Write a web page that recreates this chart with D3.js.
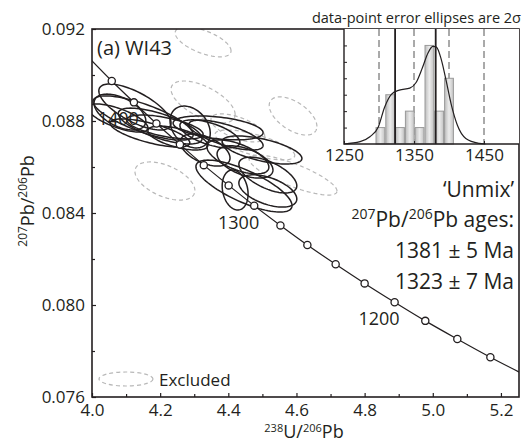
<!DOCTYPE html>
<html>
<head>
<meta charset="utf-8">
<script src="https://cdn.jsdelivr.net/npm/d3@7"></script>
<style>
  html, body { margin: 0; padding: 0; background: #fff; }
  svg { display: block; font-family: "Open Sans", sans-serif; }
</style>
</head>
<body>
<div id="chart"></div>
<script>
// concordia (Tera-Wasserburg), points every 20 Ma
const concAges = [1440, 1420, 1400, 1380, 1360, 1340, 1320, 1300, 1280, 1260, 1240, 1220, 1200, 1180, 1160, 1140, 1120];
const concX = [3.995, 4.058, 4.123, 4.189, 4.258, 4.328, 4.401, 4.476, 4.553, 4.632, 4.715, 4.800, 4.888, 4.978, 5.072, 5.169, 5.270];
const concY = [0.09069, 0.08974, 0.08881, 0.08789, 0.08698, 0.08608, 0.08520, 0.08432, 0.08346, 0.08261, 0.08177, 0.08094, 0.08012, 0.07931, 0.07852, 0.07773, 0.07696];
const concLabels = [1400, 1300, 1200];

// included analyses: centre, 2 sigma half-widths, error correlation
const incX = [4.126, 4.150, 4.200, 4.214, 4.082, 4.288, 4.370, 4.346, 4.428, 4.516, 4.446, 4.516, 4.420, 4.393, 4.449, 4.170, 4.332, 4.076, 4.252, 4.499];
const incY = [0.08861, 0.08813, 0.08778, 0.08774, 0.08839, 0.08774, 0.08770, 0.08744, 0.08644, 0.08565, 0.08517, 0.08496, 0.08500, 0.08739, 0.08622, 0.08748, 0.08674, 0.08813, 0.08726, 0.08674];
const incSx = [0.106, 0.147, 0.123, 0.112, 0.076, 0.059, 0.132, 0.088, 0.091, 0.085, 0.141, 0.085, 0.038, 0.109, 0.082, 0.117, 0.073, 0.088, 0.088, 0.117];
const incSy = [0.00100, 0.00096, 0.00078, 0.00052, 0.00078, 0.00091, 0.00052, 0.00061, 0.00074, 0.00078, 0.00113, 0.00070, 0.00087, 0.00065, 0.00070, 0.00061, 0.00070, 0.00061, 0.00052, 0.00061];
const incRho = [-0.70, -0.75, -0.70, -0.60, -0.50, -0.30, -0.40, -0.60, -0.60, -0.60, -0.75, -0.50, -0.20, -0.70, -0.50, -0.70, -0.50, -0.70, -0.60, -0.60];

// excluded analyses
const excX = [4.326, 4.326, 4.590, 4.214, 4.428, 4.590, 4.478];
const excY = [0.09144, 0.08883, 0.08822, 0.08539, 0.08770, 0.08565, 0.08696];
const excSx = [0.082, 0.094, 0.070, 0.088, 0.079, 0.129, 0.117];
const excSy = [0.00065, 0.00091, 0.00083, 0.00083, 0.00061, 0.00087, 0.00065];
const excRho = [-0.60, -0.60, -0.55, -0.50, -0.60, -0.80, -0.70];

const xTicks = [4.0, 4.2, 4.4, 4.6, 4.8, 5.0, 5.2];
const xMinor = [4.1, 4.3, 4.5, 4.7, 4.9, 5.1];
const yTicks = [0.076, 0.080, 0.084, 0.088, 0.092];
const yMinor = [0.078, 0.082, 0.086, 0.090];

// inset: 207Pb/206Pb age histogram + density
const binEdges = [1295, 1309, 1323, 1337, 1351, 1365, 1379, 1393, 1407];
const binCounts = [1, 3, 1, 2, 1, 6, 2, 4];
const kdeAge = [1250, 1273, 1287, 1299, 1308, 1318, 1329, 1344, 1353, 1362, 1370, 1377, 1382, 1389, 1396, 1403, 1412, 1424, 1443, 1452];
const kdeVal = [0, 0.14, 0.44, 1.04, 2.24, 3.04, 3.28, 3.40, 3.74, 4.64, 5.54, 5.94, 5.90, 5.14, 3.84, 2.44, 1.14, 0.34, 0.04, 0];
const unmixAges = [1381, 1323];
const insetGrid = [1300, 1350, 1400, 1450];
const insetXLabels = [1250, 1350, 1450];
const insetYTicks = [1, 2, 3, 4, 5, 6];

const W = 524, H = 442;
const plot = { left: 92, right: 519, top: 29, bottom: 397 };
const ink = "#231f20";

const svg = d3.select("#chart").append("svg")
  .attr("width", W)
  .attr("height", H);

const x = d3.scaleLinear().domain([4.0, 5.253]).range([plot.left, plot.right]);
const y = d3.scaleLinear().domain([0.076, 0.092]).range([plot.bottom, plot.top]);

svg.append("clipPath").attr("id", "plot-clip")
  .append("rect")
  .attr("x", plot.left).attr("y", plot.top)
  .attr("width", plot.right - plot.left).attr("height", plot.bottom - plot.top);

const clipped = svg.append("g").attr("clip-path", "url(#plot-clip)");

// ellipse outline from centre, half-widths and correlation
const thetas = d3.range(0, 2 * Math.PI + 0.001, Math.PI / 48);
function ellipsePath(cx, cy, sx, sy, rho) {
  const pts = thetas.map(t => [
    x(cx + sx * Math.cos(t)),
    y(cy + sy * (rho * Math.cos(t) + Math.sqrt(1 - rho * rho) * Math.sin(t)))
  ]);
  return d3.line()(pts) + "Z";
}

clipped.selectAll(".excluded")
  .data(d3.range(excX.length))
  .enter()
  .append("path")
  .attr("class", "excluded")
  .attr("d", i => ellipsePath(excX[i], excY[i], excSx[i], excSy[i], excRho[i]))
  .attr("fill", "none")
  .attr("stroke", "#b8b8b8")
  .attr("stroke-width", 1.2)
  .attr("stroke-dasharray", "4,3");

clipped.selectAll(".included")
  .data(d3.range(incX.length))
  .enter()
  .append("path")
  .attr("class", "included")
  .attr("d", i => ellipsePath(incX[i], incY[i], incSx[i], incSy[i], incRho[i]))
  .attr("fill", "none")
  .attr("stroke", ink)
  .attr("stroke-width", 1.5);

// concordia
const conc = concAges.map((a, i) => ({ age: a, x: concX[i], y: concY[i] }));

clipped.append("path")
  .datum(conc)
  .attr("fill", "none")
  .attr("stroke", ink)
  .attr("stroke-width", 1.2)
  .attr("d", d3.line().x(d => x(d.x)).y(d => y(d.y)).curve(d3.curveCatmullRom));

clipped.selectAll(".age-mark")
  .data(conc.slice(1, -1))
  .enter()
  .append("circle")
  .attr("class", "age-mark")
  .attr("cx", d => x(d.x))
  .attr("cy", d => y(d.y))
  .attr("r", 3.6)
  .attr("fill", "#fff")
  .attr("stroke", ink)
  .attr("stroke-width", 1.3);

svg.selectAll(".age-label")
  .data(conc.filter(d => concLabels.includes(d.age)))
  .enter()
  .append("text")
  .attr("class", "age-label")
  .attr("x", d => x(d.x) + 5)
  .attr("y", d => y(d.y) + 23)
  .attr("text-anchor", "end")
  .style("font-size", "18px")
  .style("fill", ink)
  .text(d => d.age);

// axes, ticks pointing inwards
svg.append("g")
  .attr("transform", `translate(0,${plot.bottom})`)
  .call(d3.axisBottom(x).tickValues(xTicks).tickFormat(d3.format(".1f")).tickSizeInner(-4).tickSizeOuter(0).tickPadding(7))
  .call(g => g.select(".domain").remove())
  .call(g => g.selectAll("line").attr("stroke", ink).attr("stroke-width", 1.2))
  .call(g => g.selectAll("text").style("font-size", "17px").style("fill", ink).style("font-family", "'Open Sans', sans-serif"));

svg.append("g")
  .attr("transform", `translate(0,${plot.bottom})`)
  .call(d3.axisBottom(x).tickValues(xMinor).tickFormat("").tickSizeInner(-3).tickSizeOuter(0))
  .call(g => g.select(".domain").remove())
  .call(g => g.selectAll("line").attr("stroke", ink).attr("stroke-width", 1.2));

svg.append("g")
  .attr("transform", `translate(${plot.left},0)`)
  .call(d3.axisLeft(y).tickValues(yTicks).tickFormat(d3.format(".3f")).tickSizeInner(-4).tickSizeOuter(0).tickPadding(7))
  .call(g => g.select(".domain").remove())
  .call(g => g.selectAll("line").attr("stroke", ink).attr("stroke-width", 1.2))
  .call(g => g.selectAll("text").style("font-size", "17px").style("fill", ink).style("font-family", "'Open Sans', sans-serif"));

svg.append("g")
  .attr("transform", `translate(${plot.left},0)`)
  .call(d3.axisLeft(y).tickValues(yMinor).tickFormat("").tickSizeInner(-3).tickSizeOuter(0))
  .call(g => g.select(".domain").remove())
  .call(g => g.selectAll("line").attr("stroke", ink).attr("stroke-width", 1.2));

svg.append("rect")
  .attr("x", plot.left).attr("y", plot.top)
  .attr("width", plot.right - plot.left).attr("height", plot.bottom - plot.top)
  .attr("fill", "none")
  .attr("stroke", ink)
  .attr("stroke-width", 1.6);

// axis titles
const xTitle = svg.append("text")
  .attr("x", 304).attr("y", 438)
  .attr("text-anchor", "middle")
  .style("font-size", "18px")
  .style("fill", ink);
xTitle.append("tspan").attr("dy", "-6").style("font-size", "11px").text("238");
xTitle.append("tspan").attr("dy", "6").text("U/");
xTitle.append("tspan").attr("dy", "-6").style("font-size", "11px").text("206");
xTitle.append("tspan").attr("dy", "6").text("Pb");

const yTitle = svg.append("text")
  .attr("transform", "translate(34,201) rotate(-90)")
  .attr("text-anchor", "middle")
  .style("font-size", "18px")
  .style("fill", ink);
yTitle.append("tspan").attr("dy", "-7").style("font-size", "12px").text("207");
yTitle.append("tspan").attr("dy", "7").text("Pb/");
yTitle.append("tspan").attr("dy", "-7").style("font-size", "12px").text("206");
yTitle.append("tspan").attr("dy", "7").text("Pb");

svg.append("text")
  .attr("x", 97).attr("y", 55)
  .style("font-size", "20px")
  .style("fill", ink)
  .text("(a) WI43");

svg.append("text")
  .attr("x", 521).attr("y", 23)
  .attr("text-anchor", "end")
  .style("font-size", "14.5px")
  .style("fill", ink)
  .text("data-point error ellipses are 2σ");

// result text
const res = svg.append("g").style("font-size", "21px").style("fill", ink).attr("text-anchor", "end");
res.append("text").attr("x", 514).attr("y", 197).text("\u2018Unmix\u2019");
const ageHead = res.append("text").attr("x", 514).attr("y", 227);
ageHead.append("tspan").attr("dy", "-8").style("font-size", "14px").text("207");
ageHead.append("tspan").attr("dy", "8").text("Pb/");
ageHead.append("tspan").attr("dy", "-8").style("font-size", "14px").text("206");
ageHead.append("tspan").attr("dy", "8").text("Pb ages:");
res.append("text").attr("x", 514).attr("y", 258).text(`${unmixAges[0]} \u00b1 5 Ma`);
res.append("text").attr("x", 514).attr("y", 289).text(`${unmixAges[1]} \u00b1 7 Ma`);

// legend
svg.append("ellipse")
  .attr("cx", 126).attr("cy", 379)
  .attr("rx", 27).attr("ry", 7)
  .attr("fill", "none")
  .attr("stroke", "#b8b8b8")
  .attr("stroke-width", 1.2)
  .attr("stroke-dasharray", "4,3");

svg.append("text")
  .attr("x", 159).attr("y", 386)
  .style("font-size", "17px")
  .style("fill", ink)
  .text("Excluded");

// inset
const inset = { left: 344, right: 519, top: 29, bottom: 144 };
const ix = d3.scaleLinear().domain([1250, 1500]).range([inset.left, inset.right]);
const iy = d3.scaleLinear().domain([0, 7]).range([inset.bottom, inset.top]);

svg.append("rect")
  .attr("x", inset.left).attr("y", inset.top)
  .attr("width", inset.right - inset.left).attr("height", inset.bottom - inset.top)
  .attr("fill", "#fff");

const grad = svg.append("defs").append("linearGradient").attr("id", "bar-grad");
grad.append("stop").attr("offset", "0%").attr("stop-color", "#bdbdbd");
grad.append("stop").attr("offset", "50%").attr("stop-color", "#ececec");
grad.append("stop").attr("offset", "100%").attr("stop-color", "#c4c4c4");

svg.selectAll(".inset-grid")
  .data(insetGrid)
  .enter()
  .append("line")
  .attr("class", "inset-grid")
  .attr("x1", d => ix(d)).attr("x2", d => ix(d))
  .attr("y1", inset.top).attr("y2", inset.bottom)
  .attr("stroke", "#555")
  .attr("stroke-width", 1)
  .attr("stroke-dasharray", "7,4");

svg.selectAll(".bar")
  .data(binCounts)
  .enter()
  .append("rect")
  .attr("class", "bar")
  .attr("x", (d, i) => ix(binEdges[i]) + 0.5)
  .attr("y", d => iy(d))
  .attr("width", (d, i) => ix(binEdges[i + 1]) - ix(binEdges[i]) - 1)
  .attr("height", d => iy(0) - iy(d))
  .attr("fill", "url(#bar-grad)")
  .attr("stroke", "#9a9a9a")
  .attr("stroke-width", 1);

svg.append("path")
  .datum(kdeAge.map((a, i) => [a, kdeVal[i]]))
  .attr("fill", "none")
  .attr("stroke", ink)
  .attr("stroke-width", 1.2)
  .attr("d", d3.line().x(d => ix(d[0])).y(d => iy(d[1])).curve(d3.curveMonotoneX));

svg.selectAll(".unmix-line")
  .data(unmixAges)
  .enter()
  .append("line")
  .attr("class", "unmix-line")
  .attr("x1", d => ix(d)).attr("x2", d => ix(d))
  .attr("y1", inset.top).attr("y2", inset.bottom)
  .attr("stroke", ink)
  .attr("stroke-width", 1.8);

svg.append("g")
  .attr("transform", `translate(0,${inset.bottom})`)
  .call(d3.axisBottom(ix).tickValues(insetXLabels).tickFormat(d3.format("d")).tickSizeInner(-3).tickSizeOuter(0).tickPadding(5))
  .call(g => g.select(".domain").remove())
  .call(g => g.selectAll("line").attr("stroke", ink))
  .call(g => g.selectAll("text").style("font-size", "17px").style("fill", ink).style("font-family", "'Open Sans', sans-serif"));

svg.append("g")
  .attr("transform", `translate(${inset.left},0)`)
  .call(d3.axisLeft(iy).tickValues(insetYTicks).tickFormat("").tickSizeInner(-3).tickSizeOuter(0))
  .call(g => g.select(".domain").remove())
  .call(g => g.selectAll("line").attr("stroke", ink));

svg.append("path")
  .attr("d", `M${inset.left},${inset.top}V${inset.bottom}H${inset.right}`)
  .attr("fill", "none")
  .attr("stroke", ink)
  .attr("stroke-width", 1.4);
</script>
</body>
</html>
